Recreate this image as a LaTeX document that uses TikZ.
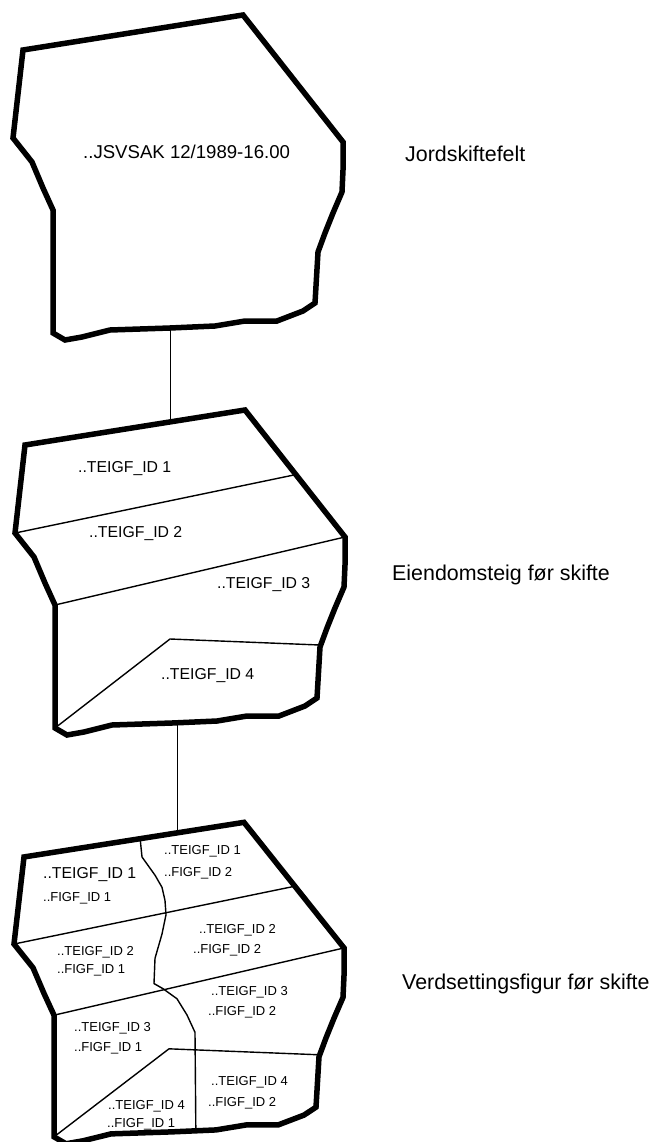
\documentclass[tikz,border=0pt]{standalone}
\usepackage{fontspec}
\setmainfont{Liberation Sans}
\begin{document}
\begin{tikzpicture}[x=1pt,y=-1pt,
  outline/.style={line width=5.5pt, line join=miter, line cap=butt},
  divider/.style={line width=1.4pt},
  link/.style={line width=0.9pt},
  shapepath/.style={insert path={(23,50) -- (243,15) -- (343,142) -- (343,170) -- (342,192) -- (333,213) -- (325,233) -- (318,252) -- (315,303) -- (303,311) -- (277,321) -- (245,321) -- (215,326) -- (170,328) -- (110,330) -- (82,337) -- (65,340) -- (53,333) -- (53,210) -- (43,188) -- (32,162) -- (13,138) -- cycle}},
  lbl/.style={anchor=base west, inner sep=0pt, font=\fontsize{13}{15}\selectfont},
  midlbl/.style={anchor=base west, inner sep=0pt, font=\fontsize{15.8}{18}\selectfont},
  biglbl/.style={anchor=base west, inner sep=0pt, font=\fontsize{18.6}{21}\selectfont},
  sidelbl/.style={anchor=base west, inner sep=0pt, font=\fontsize{21.4}{25}\selectfont}]
\path[use as bounding box, fill=white] (0,0) rectangle (652,1142);

% ---------- Shape 1: Jordskiftefelt ----------
\begin{scope}
  \draw[outline, shapepath];
  \coordinate (jsbottom) at (170,329);
\end{scope}
\node[biglbl] (jsvsak) at (83,158.7) {..JSVSAK 12/1989-16.00};
\node[sidelbl] (jordlbl) at (405,161.7) {Jordskiftefelt};

% ---------- Shape 2: Eiendomsteig ----------
\begin{scope}[shift={(2,395)}]
  \begin{scope}
    \clip[shapepath];
    \draw[divider] (5,139.7) -- (300,78.3);
    \draw[divider] (53,210) -- (343,142);
    \draw[divider] (53,333) -- (168,244) -- (325,250.3);
  \end{scope}
  \draw[outline, shapepath];
  \coordinate (eitop) at (168,27);
  \coordinate (eibottom) at (175,329);
\end{scope}
\node[midlbl] (e1) at (78,472.7) {..TEIGF\_ID 1};
\node[midlbl] (e2) at (89,537.7) {..TEIGF\_ID 2};
\node[midlbl] (e3) at (217,588.7) {..TEIGF\_ID 3};
\node[midlbl] (e4) at (161,679.7) {..TEIGF\_ID 4};
\node[sidelbl] (eilbl) at (392,580.7) {Eiendomsteig før skifte};

% ---------- Shape 3: Verdsettingsfigur ----------
\begin{scope}[shift={(1,807.5)}, yscale=0.989]
  \begin{scope}
    \clip[shapepath];
    \draw[divider] (5,139.7) -- (300,78.3);
    \draw[divider] (53,210) -- (343,142);
    \draw[divider] (53,333) -- (168,244) -- (325,250.3);
    \draw[divider] (138,20) -- (141,50) -- (154,68.4) -- (161,80.7) -- (164,94) -- (165,108.4) -- (161,127.9) -- (154,152.5) -- (153,178) -- (162,183.2) -- (176,193.4) -- (186,209.8) -- (194,227.3) -- (195,345);
  \end{scope}
  \draw[outline, shapepath];
  \coordinate (vftop) at (176,26);
\end{scope}
\node[midlbl] (v1) at (43,878.6) {..TEIGF\_ID 1};
\node[lbl] (v2) at (43,901.7) {..FIGF\_ID 1};
\node[lbl] (v3) at (164,854.7) {..TEIGF\_ID 1};
\node[lbl] (v4) at (164,876.7) {..FIGF\_ID 2};
\node[lbl] (v5) at (199,933.7) {..TEIGF\_ID 2};
\node[lbl] (v6) at (193,953.7) {..FIGF\_ID 2};
\node[lbl] (v7) at (57,955.7) {..TEIGF\_ID 2};
\node[lbl] (v8) at (57,973.7) {..FIGF\_ID 1};
\node[lbl] (v9) at (211,995.7) {..TEIGF\_ID 3};
\node[lbl] (v10) at (208,1015.7) {..FIGF\_ID 2};
\node[lbl] (v11) at (74,1031.7) {..TEIGF\_ID 3};
\node[lbl] (v12) at (74,1051.7) {..FIGF\_ID 1};
\node[lbl] (v13) at (211,1085.7) {..TEIGF\_ID 4};
\node[lbl] (v14) at (208,1106.4) {..FIGF\_ID 2};
\node[lbl] (v15) at (108,1109.7) {..TEIGF\_ID 4};
\node[lbl] (v16) at (107,1127.7) {..FIGF\_ID 1};
\node[sidelbl] (vflbl) at (402,989.7) {Verdsettingsfigur før skifte};

% ---------- Connectors ----------
\draw[link] (jsbottom) -- (eitop);
\draw[link] (eibottom) -- (vftop);
\end{tikzpicture}
\end{document}
